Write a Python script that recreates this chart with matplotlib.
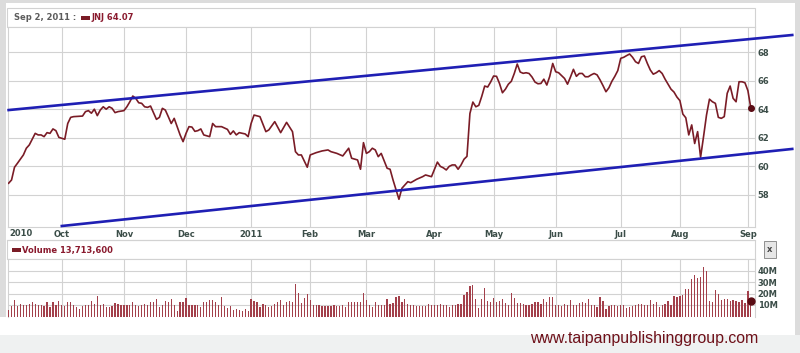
import numpy as np
import pandas as pd
import matplotlib
matplotlib.use("Agg")
import matplotlib.pyplot as plt
from matplotlib.patches import Rectangle
from matplotlib.lines import Line2D

# --- trading calendar covered by the chart (Sep 7 2010 .. Sep 2 2011) ---
holidays = ["2010-11-25", "2010-12-24", "2011-01-17", "2011-02-21",
            "2011-04-22", "2011-05-30", "2011-07-04"]
start_date = "2010-09-07"
end_date = "2011-09-02"

month_labels = ["Oct", "Nov", "Dec", "2011", "Feb", "Mar", "Apr",
                "May", "Jun", "Jul", "Aug", "Sep"]
price_ticks = [58, 60, 62, 64, 66, 68]
vol_ticks = [10, 20, 30, 40]
vol_tick_labels = ["10M", "20M", "30M", "40M"]

# JNJ close, by session number (0 = first session on the chart)
price_day = [0, 1, 2, 3, 5, 6, 7, 9, 10, 11, 12, 13, 14, 15, 16, 17, 19, 20, 21, 22,
             25, 26, 27, 28, 29, 30, 31, 32, 33, 34, 35, 36, 37, 39, 40, 41, 42, 43, 44, 45,
             46, 47, 48, 50, 51, 52, 53, 54, 55, 56, 57, 58, 59, 60, 61, 62, 63, 64, 65, 66,
             68, 69, 70, 72, 74, 75, 76, 77, 78, 80, 81, 82, 83, 85, 87, 88, 90, 92, 94, 96,
             97, 98, 99, 101, 102, 104, 106, 108, 109, 111, 113, 115, 116, 118, 119, 120, 121, 122, 123, 124,
             125, 126, 128, 129, 130, 132, 133, 135, 136, 138, 140, 141, 143, 145, 146, 147, 148, 149, 150, 151,
             152, 153, 154, 155, 156, 157, 158, 159, 160, 161, 162, 163, 164, 165, 166, 167, 168, 169, 170, 171,
             172, 173, 174, 175, 176, 177, 178, 179, 180, 181, 182, 183, 184, 185, 186, 187, 188, 189, 190, 191,
             192, 193, 194, 195, 196, 197, 198, 199, 200, 201, 202, 203, 204, 205, 206, 207, 208, 209, 210, 211,
             212, 213, 214, 215, 216, 217, 218, 219, 220, 221, 222, 223, 224, 225, 226, 227, 228, 229, 230, 231,
             232, 233, 234, 235, 236, 237, 238, 239, 240, 241, 242, 243, 244, 245, 246, 247, 248, 249, 250, 251]
price_close = [58.82, 59.05, 59.94, 60.22, 60.80, 61.27, 61.50, 62.31, 62.20, 62.20, 62.08, 62.36, 62.31, 62.62, 62.50, 62.03, 61.90, 63.00, 63.43, 63.48,
               63.52, 63.83, 63.90, 63.72, 64.00, 63.55, 63.94, 64.17, 64.00, 64.17, 64.06, 63.76, 63.83, 63.90, 64.17, 64.52, 64.92, 64.76, 64.45, 64.41,
               64.17, 64.13, 64.22, 63.29, 63.43, 64.06, 63.94, 63.48, 63.00, 63.36, 62.78, 62.20, 61.73, 62.31, 62.78, 62.75, 62.45, 62.50, 62.62, 62.20,
               62.08, 63.00, 62.78, 62.78, 62.59, 62.24, 62.48, 62.20, 62.36, 62.27, 62.08, 63.00, 63.59, 63.48, 62.43, 62.55, 63.13, 62.36, 63.08, 62.43,
               61.03, 60.80, 60.80, 59.94, 60.80, 60.96, 61.08, 61.15, 61.03, 60.91, 60.73, 61.27, 60.57, 60.45, 59.80, 61.66, 60.91, 61.03, 61.27, 61.15,
               60.68, 60.91, 59.87, 59.80, 59.05, 57.70, 58.47, 58.93, 58.86, 59.10, 59.28, 59.40, 59.28, 60.30, 60.00, 59.90, 59.75, 60.00, 60.10, 60.10,
               59.80, 60.10, 60.50, 60.70, 63.70, 64.50, 64.17, 64.27, 64.90, 65.62, 65.55, 65.90, 66.32, 66.30, 65.80, 65.15, 65.40, 65.75, 65.95, 66.50,
               67.16, 66.60, 66.51, 66.55, 66.50, 66.25, 65.90, 65.78, 65.80, 66.10, 65.69, 66.30, 67.20, 66.62, 66.55, 66.35, 66.15, 65.75, 66.25, 66.79,
               66.30, 66.50, 66.50, 66.27, 66.27, 66.40, 66.50, 66.40, 66.05, 65.65, 65.22, 65.50, 65.95, 66.30, 66.70, 67.56, 67.63, 67.75, 67.86, 67.63,
               67.32, 67.20, 67.67, 67.72, 67.20, 66.74, 66.45, 66.55, 66.70, 66.50, 66.10, 65.75, 65.40, 65.20, 64.85, 64.60, 63.66, 63.40, 62.20, 62.90,
               61.60, 62.43, 60.64, 62.08, 63.59, 64.70, 64.52, 64.41, 63.43, 63.36, 63.48, 65.11, 65.62, 64.76, 64.52, 65.92, 65.92, 65.85, 65.30, 64.07]

# daily volume, millions of shares, one per session
volume = [5.8, 8.7, 14.6, 8.7, 11.0, 10.2, 10.2, 11.0, 13.0, 11.0,
          9.6, 9.6, 8.7, 13.0, 8.2, 13.0, 10.2, 13.7, 10.2, 8.7,
          13.0, 12.2, 10.2, 7.9, 6.7, 8.7, 10.2, 9.6, 13.7, 11.0,
          17.5, 10.2, 11.0, 7.9, 7.9, 8.7, 11.7, 10.8, 9.6, 9.6,
          9.6, 10.2, 12.2, 9.6, 9.3, 10.2, 11.0, 10.2, 13.0, 13.0,
          15.5, 7.9, 10.2, 13.7, 12.2, 14.9, 10.2, 5.0, 12.5, 12.5,
          16.0, 10.2, 10.2, 9.6, 10.2, 8.2, 13.0, 12.2, 14.3, 14.3,
          12.5, 10.2, 16.6, 8.7, 7.3, 9.3, 5.8, 6.4, 5.8, 5.0,
          6.7, 5.2, 15.2, 13.7, 12.2, 7.9, 10.8, 10.2, 8.2, 8.7,
          10.8, 12.2, 14.3, 10.2, 12.2, 13.7, 12.2, 28.3, 20.4, 11.7,
          16.0, 19.8, 14.6, 10.2, 10.2, 10.2, 9.3, 8.7, 8.7, 8.7,
          10.2, 9.3, 8.7, 10.2, 7.9, 12.5, 12.2, 13.0, 12.2, 12.2,
          20.7, 14.6, 10.2, 8.2, 12.2, 10.2, 10.2,
          10.2, 15.2, 11.0, 11.7, 16.6, 17.5, 13.0, 15.2, 11.0, 10.2,
          10.2, 8.7, 8.7, 8.7, 9.3, 10.8, 10.2, 10.2, 9.6, 10.8,
          10.2, 9.6, 8.2, 10.2, 10.2, 11.0, 11.0, 19.0, 21.0, 26.8,
          27.7, 15.5, 7.3, 15.2, 24.8, 13.7, 13.0, 16.0, 13.0, 13.7,
          15.2, 11.7, 10.2, 20.4, 16.0, 11.7, 11.7, 11.0, 10.2, 10.2,
          11.0, 12.5, 12.2, 11.0, 14.9, 12.2, 16.6, 16.6, 10.2, 10.2,
          9.3, 11.0, 10.2, 14.3, 10.2, 9.6, 11.7, 13.0, 11.7, 15.2,
          10.2, 9.6, 7.9, 16.6, 13.7, 6.7, 8.7, 10.2, 10.2, 8.7,
          10.2, 9.6, 7.3, 8.2, 8.7, 10.2, 10.8, 10.8, 10.2, 10.2,
          14.6, 11.0, 12.5, 8.2, 10.2, 10.8, 13.7, 10.2, 17.5, 16.6,
          17.5, 18.4, 24.2, 24.2, 32.9, 36.4, 33.5, 34.4, 42.9, 39.9,
          13.7, 12.2, 23.3, 19.5, 14.6, 15.2, 15.2, 13.7, 14.0, 13.7,
          12.2, 14.6, 11.7, 22.4, 13.7]

# hand-drawn channel lines (session number, price)
upper_x = [0, 265]
upper_y = [63.94, 69.19]
lower_x = [18, 265]
lower_y = [55.83, 61.22]

header_date = "Sep 2, 2011 :"
header_price = "JNJ 64.07"
header_volume = "Volume 13,713,600"
watermark = "www.taipanpublishinggroup.com"

# colours
PRICE_C = "#7a1c26"
BLUE_C = "#1f1fb4"
GRID_C = "#d2d2d2"
LABEL_C = "#3b4d48"
VOL_C = "#a3404b"
FRAME_C = "#dcdcdc"

sessions = pd.bdate_range(start_date, end_date)
sessions = sessions[~sessions.isin(pd.to_datetime(holidays))]
month_pos = []
for m in pd.period_range("2010-10", "2011-09", freq="M"):
    month_pos.append(int(np.argmax((sessions.year == m.year) & (sessions.month == m.month))))

W, H = 800, 353


def fx(px):
    return px / W


def fy(py):
    return 1 - py / H


fig = plt.figure(figsize=(8, 3.53), dpi=100)
fig.patch.set_facecolor("white")

# outer frame of the widget
fig.add_artist(Rectangle((0, fy(317)), fx(6), 317 / H, transform=fig.transFigure,
                         facecolor=FRAME_C, edgecolor="none", zorder=-5))
fig.add_artist(Rectangle((0, fy(3)), 1, 3 / H, transform=fig.transFigure,
                         facecolor=FRAME_C, edgecolor="none", zorder=-5))
fig.add_artist(Rectangle((fx(795), fy(335)), fx(5), 335 / H, transform=fig.transFigure,
                         facecolor=FRAME_C, edgecolor="none", zorder=-5))
fig.add_artist(Rectangle((0, 0), 1, 18 / H, transform=fig.transFigure,
                         facecolor="#eff1f1", edgecolor="none", zorder=-5))

# header boxes
fig.add_artist(Rectangle((fx(7), fy(27)), fx(748), 19 / H, transform=fig.transFigure,
                         facecolor="white", edgecolor=GRID_C, lw=0.8, zorder=-4))
fig.add_artist(Rectangle((fx(7), fy(259)), fx(748), 19 / H, transform=fig.transFigure,
                         facecolor="white", edgecolor=GRID_C, lw=0.8, zorder=-4))
fig.add_artist(Line2D([fx(7), fx(755)], [fy(240), fy(240)], transform=fig.transFigure,
                      color=GRID_C, lw=0.8))

# --- price panel ---
ax = fig.add_axes([fx(8), fy(227), fx(747), (227 - 27) / H])
ax.plot(price_day, price_close, color=PRICE_C, lw=1.2, zorder=3)
ax.plot(price_day[-1], price_close[-1], marker="o", ms=4, color="#5a0c14",
        clip_on=False, zorder=4)
ax.plot(upper_x, upper_y, color=BLUE_C, lw=1.9, clip_on=False, zorder=4)
ax.plot(lower_x, lower_y, color=BLUE_C, lw=1.9, clip_on=False, zorder=4)

ax.set_xlim(-0.2, 252.4)
ax.set_ylim(55.76, 69.75)
ax.set_xticks(month_pos)
ax.set_xticklabels(month_labels)
ax.set_yticks(price_ticks)
ax.yaxis.tick_right()
ax.tick_params(axis="both", length=0, labelsize=6, labelcolor=LABEL_C)
ax.tick_params(axis="x", pad=2.5)
ax.tick_params(axis="y", pad=2)
for lab in ax.get_xticklabels() + ax.get_yticklabels():
    lab.set_fontweight("bold")
ax.grid(True, color=GRID_C, lw=0.8)
ax.set_axisbelow(True)
for s in ax.spines.values():
    s.set_color(GRID_C)
    s.set_linewidth(0.8)
fig.text(fx(9), fy(234), "2010", fontsize=6, fontweight="bold", color=LABEL_C,
         ha="left", va="center")

# --- volume panel ---
vx = fig.add_axes([fx(8), fy(316.5), fx(747), (316.5 - 259) / H])
vx.bar(np.arange(len(volume)), volume, width=0.42, color=VOL_C, zorder=3)
vx.plot(len(volume) - 1, volume[-1], marker="o", ms=5, color="#5a0c14",
        clip_on=False, zorder=4)
vx.set_xlim(-0.2, 252.4)
vx.set_ylim(0, 50)
vx.set_xticks(month_pos)
vx.set_xticklabels([])
vx.set_yticks(vol_ticks)
vx.set_yticklabels(vol_tick_labels)
vx.yaxis.tick_right()
vx.tick_params(axis="both", length=0, labelsize=6, labelcolor=LABEL_C, pad=2)
for lab in vx.get_yticklabels():
    lab.set_fontweight("bold")
vx.grid(True, color=GRID_C, lw=0.8)
vx.set_axisbelow(True)
for name, s in vx.spines.items():
    s.set_color(GRID_C)
    s.set_linewidth(0.8)
    if name == "bottom":
        s.set_visible(False)

# --- header texts ---
fig.text(fx(14), fy(18), header_date, fontsize=6, fontweight="bold",
         color="#5c5c5c", ha="left", va="center")
fig.add_artist(Rectangle((fx(81), fy(19.5)), fx(9), 3.5 / H, transform=fig.transFigure,
                         facecolor=PRICE_C, edgecolor="none"))
fig.text(fx(91), fy(18), header_price, fontsize=6, fontweight="bold",
         color="#8a1a2e", ha="left", va="center")

fig.add_artist(Rectangle((fx(12), fy(251.5)), fx(9), 3.5 / H, transform=fig.transFigure,
                         facecolor=PRICE_C, edgecolor="none"))
fig.text(fx(22), fy(250), header_volume, fontsize=6, fontweight="bold",
         color="#8a1a2e", ha="left", va="center")
fig.text(fx(770), fy(249.5), "x", fontsize=6, fontweight="bold", color="#444444",
         ha="center", va="center",
         bbox=dict(boxstyle="square,pad=0.45", facecolor="#e6e6e6", edgecolor="#8f8f8f", lw=0.7))

fig.text(fx(644), fy(338), watermark, fontsize=11.4, color="#6e1019",
         family="Liberation Sans", ha="center", va="center")

plt.savefig("out.png", dpi=100)
